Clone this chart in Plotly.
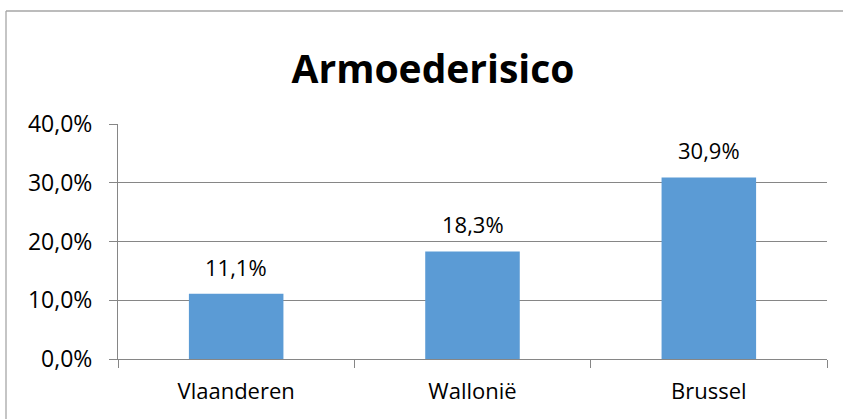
import plotly.graph_objects as go

categories = ["Vlaanderen", "Wallonië", "Brussel"]
values = [0.111, 0.183, 0.309]
y_ticks = [0, 0.1, 0.2, 0.3, 0.4]
title_text = "Armoederisico"

W, H = 843, 419
L, R, T, B = 118, 16, 124, 60
pw, ph = W - L - R, H - T - B

fig = go.Figure()
fig.add_trace(go.Bar(
    x=categories, y=values, width=0.4,
    marker=dict(color="#5B9BD5", line=dict(width=0)),
    hoverinfo="skip",
))

for c, v in zip(categories, values):
    fig.add_annotation(
        x=c, y=v, xref="x", yref="y",
        text=f"{v*100:.1f}%".replace(".", ","),
        showarrow=False, yanchor="bottom", yshift=10,
        font=dict(family="Open Sans", size=22, color="#000000"),
    )

# chart border (top and left edges visible in the crop)
bx0 = (6 - L) / pw
bx1 = (W - L) / pw
by_top = (H - B - 11) / ph
by_bot = (H - B - H) / ph
border = dict(color="#A6A6A6", width=1.3)
fig.add_shape(type="line", xref="paper", yref="paper",
              x0=bx0, x1=bx1, y0=by_top, y1=by_top, line=border, layer="below")
fig.add_shape(type="line", xref="paper", yref="paper",
              x0=bx0, x1=bx0, y0=by_top, y1=by_bot, line=border, layer="below")

fig.update_layout(
    width=W, height=H,
    margin=dict(l=L, r=R, t=T, b=B, pad=0),
    paper_bgcolor="white", plot_bgcolor="white",
    separators=",.",
    showlegend=False,
    title=dict(
        text=f"<b>{title_text}</b>", x=433 / W, xanchor="center",
        y=1 - 69 / H, yanchor="middle", yref="container",
        font=dict(family="Open Sans", size=39, color="#000000"),
    ),
    xaxis=dict(
        type="category", tickson="boundaries", ticks="outside", ticklen=8,
        tickcolor="#868686", tickwidth=1,
        showline=True, linecolor="#868686", linewidth=1,
        showgrid=False, range=[-0.5, 2.5], ticklabelstandoff=13,
        tickfont=dict(family="Open Sans", size=22, color="#000000"),
    ),
    yaxis=dict(
        range=[0, 0.4], tickvals=y_ticks, tickformat=".1%",
        ticks="outside", ticklen=8, tickcolor="#868686", tickwidth=1,
        showline=True, linecolor="#868686", linewidth=1,
        showgrid=True, gridcolor="#868686", gridwidth=1, zeroline=False,
        ticklabelstandoff=12,
        tickfont=dict(family="Open Sans", size=23, color="#000000"),
    ),
)

fig.write_html(
    "out.html",
    config={"displayModeBar": False},
    post_script="document.body.style.margin='0';document.body.style.overflow='hidden';",
)
